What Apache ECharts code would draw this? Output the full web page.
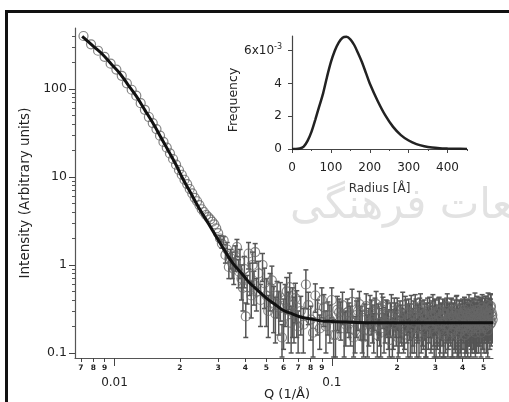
<!DOCTYPE html>
<html><head><meta charset="utf-8">
<script src="https://cdn.jsdelivr.net/npm/echarts@6/dist/echarts.min.js"></script>
<style>html,body{margin:0;padding:0;background:#fff}#c{width:509px;height:402px}</style>
</head><body><div id="c"></div>
<script>
// ---- fit curve (main plot) ----
const fitQ = [0.0071,0.0080,0.0088,0.0097,0.0105,0.0115,0.0126,0.0138,0.0150,0.0164,0.0179,0.0193,0.0206,0.0225,0.0246,0.0270,0.0294,0.0320,0.0350,0.0385,0.0419,0.0460,0.0500,0.0545,0.0594,0.0650,0.0712,0.0790,0.0880,0.100,0.120,0.145,0.200,0.300,0.400,0.552];
const fitI = [397,305,248,190,154,113,82.8,57.5,41.2,27.8,18.9,13.4,9.6,6.5,4.35,2.98,2.1,1.48,1.05,0.8,0.624,0.506,0.42,0.36,0.308,0.282,0.258,0.245,0.233,0.228,0.224,0.221,0.220,0.220,0.220,0.220];

// ---- measured data, low q (errors too small to see) ----
const lowQ = [0.0072,0.0078,0.0084,0.0090,0.0096,0.0102,0.0108,0.0114,0.0120,0.0126,0.0132,0.0138,0.0144,0.0150,0.0156,0.0162,0.0168,0.0174,0.0180,0.0186,0.0192,0.0198,0.0204,0.0210,0.0216,0.0222,0.0228,0.0234,0.0240,0.0246,0.0252,0.0258,0.0264,0.0270,0.0276,0.0282,0.0288,0.0294,0.0300];
const lowI = [400,322,272,232,194,166,141,116,98,84,69,58,48,41,35,29.5,25,21.5,18.5,16,13.8,12,10.6,9.3,8.3,7.3,6.5,5.8,5.3,4.8,4.3,4.0,3.7,3.5,3.3,3.1,2.9,2.6,2.3];

// ---- measured data, mid q ----
const midQ = [0.0306,0.0312,0.0318,0.0324,0.0330,0.0336,0.0342,0.0348,0.0354,0.0360,0.0366,0.0372,0.0378,0.0384,0.0390,0.0396,0.0402,0.0408,0.0414,0.0420,0.0426,0.0432,0.0438,0.0444,0.0450,0.0460,0.0470,0.0480,0.0490,0.0500,0.0510,0.0520,0.0530,0.0540,0.0550,0.0560,0.0570,0.0580,0.0590,0.0600,0.0610,0.0620,0.0630,0.0640,0.0650,0.0660,0.0670,0.0680,0.0690,0.0700];
const midI = [2.0,1.75,1.9,1.3,1.5,0.95,1.2,1.05,0.9,1.25,1.6,0.85,1.1,0.7,0.55,0.9,0.26,0.56,1.35,0.75,0.45,1.0,0.6,1.4,0.5,0.8,0.4,1.0,0.62,0.45,0.3,0.55,0.67,0.37,0.28,0.45,0.33,0.43,0.15,0.26,0.4,0.5,0.31,0.56,0.22,0.35,0.28,0.42,0.33,0.2];
const midErr = [0.15,0.2,0.2,0.25,0.3,0.25,0.3,0.35,0.3,0.4,0.35,0.3,0.4,0.3,0.25,0.35,0.11,0.2,0.45,0.3,0.2,0.4,0.25,0.35,0.2,0.3,0.2,0.35,0.3,0.25,0.15,0.25,0.3,0.2,0.15,0.2,0.17,0.2,0.06,0.15,0.2,0.22,0.18,0.25,0.12,0.2,0.15,0.2,0.18,0.1];

// ---- measured data, high q (two interleaved runs) ----
const highQ = [0.072,0.076,0.080,0.084,0.088,0.092,0.096,0.100,0.104,0.108,
0.112,0.116,0.120,0.124,0.128,0.132,0.136,0.140,0.144,0.148,
0.152,0.156,0.160,0.164,0.168,0.172,0.176,0.180,0.184,0.188,
0.192,0.196,0.200,0.204,0.208,0.212,0.216,0.220,0.224,0.228,
0.232,0.236,0.240,0.244,0.248,0.252,0.256,0.260,0.264,0.268,
0.272,0.276,0.280,0.284,0.288,0.292,0.296,0.300,0.304,0.308,
0.312,0.316,0.320,0.324,0.328,0.332,0.336,0.340,0.344,0.348,
0.352,0.356,0.360,0.364,0.368,0.372,0.376,0.380,0.384,0.388,
0.392,0.396,0.400,0.404,0.408,0.412,0.416,0.420,0.424,0.428,
0.432,0.436,0.440,0.444,0.448,0.452,0.456,0.460,0.464,0.468,
0.472,0.476,0.480,0.484,0.488,0.492,0.496,0.500,0.504,0.508,
0.512,0.516,0.520,0.524,0.528,0.532,0.536,0.540,0.544,0.548];
const highI = [0.30,0.60,0.24,0.45,0.19,0.33,0.27,0.40,0.16,0.29,
0.35,0.21,0.26,0.38,0.18,0.30,0.24,0.15,0.34,0.22,
0.28,0.19,0.36,0.25,0.17,0.31,0.23,0.27,0.14,0.33,
0.21,0.26,0.30,0.18,0.24,0.35,0.20,0.28,0.16,0.25,
0.32,0.22,0.19,0.29,0.24,0.15,0.34,0.27,0.21,0.25,
0.18,0.30,0.23,0.26,0.20,0.33,0.17,0.28,0.24,0.22,
0.31,0.19,0.25,0.29,0.16,0.27,0.23,0.34,0.20,0.26,
0.22,0.30,0.18,0.25,0.28,0.21,0.32,0.24,0.17,0.27,
0.25,0.20,0.29,0.23,0.31,0.19,0.26,0.28,0.22,0.33,
0.24,0.18,0.27,0.30,0.21,0.25,0.35,0.23,0.19,0.28,
0.26,0.31,0.22,0.29,0.24,0.33,0.20,0.27,0.30,0.25,
0.32,0.23,0.28,0.35,0.26,0.30,0.24,0.34,0.29,0.27];
const highErr = [0.14,0.28,0.10,0.16,0.08,0.13,0.11,0.15,0.07,0.12,
0.14,0.09,0.11,0.15,0.08,0.12,0.10,0.07,0.13,0.10,
0.12,0.09,0.14,0.11,0.08,0.12,0.10,0.12,0.07,0.13,
0.10,0.11,0.12,0.08,0.11,0.14,0.09,0.12,0.08,0.11,
0.13,0.10,0.09,0.12,0.11,0.07,0.13,0.12,0.10,0.11,
0.09,0.12,0.10,0.11,0.09,0.13,0.08,0.12,0.11,0.10,
0.12,0.09,0.11,0.12,0.08,0.11,0.10,0.13,0.09,0.11,
0.10,0.12,0.09,0.11,0.12,0.10,0.13,0.11,0.08,0.12,
0.11,0.09,0.12,0.10,0.12,0.09,0.11,0.12,0.10,0.13,
0.11,0.09,0.12,0.12,0.10,0.11,0.13,0.10,0.09,0.12,
0.11,0.12,0.10,0.12,0.11,0.13,0.09,0.11,0.12,0.11,
0.12,0.10,0.11,0.13,0.11,0.12,0.10,0.13,0.12,0.11];
const highQ2 = [0.074,0.078,0.082,0.086,0.090,0.094,0.098,0.102,0.106,0.110,
0.114,0.118,0.122,0.126,0.130,0.134,0.138,0.142,0.146,0.150,
0.154,0.158,0.162,0.166,0.170,0.174,0.178,0.182,0.186,0.190,
0.194,0.198,0.202,0.206,0.210,0.214,0.218,0.222,0.226,0.230,
0.234,0.238,0.242,0.246,0.250,0.254,0.258,0.262,0.266,0.270,
0.274,0.278,0.282,0.286,0.290,0.294,0.298,0.302,0.306,0.310,
0.314,0.318,0.322,0.326,0.330,0.334,0.338,0.342,0.346,0.350,
0.354,0.358,0.362,0.366,0.370,0.374,0.378,0.382,0.386,0.390,
0.394,0.398,0.402,0.406,0.410,0.414,0.418,0.422,0.426,0.430,
0.434,0.438,0.442,0.446,0.450,0.454,0.458,0.462,0.466,0.470,
0.474,0.478,0.482,0.486,0.490,0.494,0.498,0.502,0.506,0.510,
0.514,0.518,0.522,0.526,0.530,0.534,0.538,0.542,0.546,0.550];
const highI2 = [0.21,0.35,0.17,0.28,0.40,0.20,0.24,0.16,0.31,0.26,
0.19,0.29,0.23,0.15,0.27,0.36,0.20,0.25,0.18,0.32,
0.24,0.30,0.16,0.22,0.34,0.19,0.28,0.21,0.26,0.17,
0.30,0.23,0.15,0.27,0.22,0.19,0.31,0.24,0.29,0.18,
0.20,0.27,0.33,0.16,0.25,0.30,0.19,0.22,0.28,0.17,
0.26,0.21,0.31,0.19,0.27,0.23,0.29,0.16,0.21,0.30,
0.18,0.26,0.22,0.17,0.28,0.20,0.30,0.15,0.25,0.23,
0.29,0.17,0.26,0.21,0.19,0.31,0.16,0.22,0.28,0.20,
0.18,0.27,0.21,0.26,0.16,0.29,0.20,0.17,0.25,0.22,
0.28,0.21,0.19,0.24,0.29,0.20,0.17,0.26,0.31,0.22,
0.19,0.24,0.28,0.17,0.30,0.21,0.26,0.19,0.23,0.31,
0.20,0.27,0.18,0.24,0.29,0.21,0.33,0.22,0.26,0.24];
const highErr2 = [0.11,0.14,0.08,0.12,0.15,0.10,0.11,0.08,0.13,0.12,
0.10,0.12,0.11,0.07,0.12,0.14,0.10,0.11,0.09,0.13,
0.11,0.12,0.08,0.10,0.13,0.09,0.12,0.10,0.11,0.08,
0.12,0.11,0.07,0.12,0.10,0.09,0.13,0.11,0.12,0.09,
0.10,0.12,0.13,0.08,0.11,0.12,0.09,0.10,0.12,0.08,
0.11,0.10,0.12,0.09,0.12,0.11,0.12,0.08,0.10,0.12,
0.09,0.11,0.10,0.08,0.12,0.10,0.12,0.07,0.11,0.10,
0.12,0.08,0.11,0.10,0.09,0.13,0.08,0.10,0.12,0.10,
0.09,0.12,0.10,0.11,0.08,0.12,0.10,0.08,0.11,0.10,
0.12,0.10,0.09,0.11,0.12,0.10,0.08,0.11,0.13,0.10,
0.09,0.11,0.12,0.08,0.12,0.10,0.11,0.09,0.10,0.13,
0.10,0.12,0.09,0.11,0.12,0.10,0.13,0.10,0.11,0.11];

// ---- inset: size distribution ----
const radius = [0,10,20,30,40,50,60,70,80,90,100,110,120,130,140,150,160,170,180,190,200,220,240,260,280,300,320,340,360,380,400,420,450];
const freq = [0,0,0.03,0.15,0.5,1.05,1.8,2.6,3.4,4.4,5.3,6.0,6.5,6.8,6.85,6.7,6.35,5.85,5.3,4.65,4.0,2.95,2.05,1.35,0.85,0.52,0.3,0.17,0.09,0.05,0.03,0.015,0.005];

// ---- tick labels ----
const xMajorTicks = [0.01, 0.1];
const xMajorLabels = ['0.01', '0.1'];
const xMinorTicks = [0.007,0.008,0.009,0.02,0.03,0.04,0.05,0.06,0.07,0.08,0.09,0.2,0.3,0.4,0.5];
const xMinorLabels = ['7','8','9','2','3','4','5','6','7','8','9','2','3','4','5'];
const yMajorTicks = [0.1, 1, 10, 100];
const yMajorLabels = ['0.1', '1', '10', '100'];
const yMinorTicks = [0.2,0.3,0.4,0.5,0.6,0.7,0.8,0.9,2,3,4,5,6,7,8,9,20,30,40,50,60,70,80,90,200,300,400];
const insetXTicks = [0, 100, 200, 300, 400];
const insetXMinor = [50, 150, 250, 350, 450];
const insetYTicks = [0, 2, 4, 6];

const X_MIN = 0.00658, X_MAX = 0.552, Y_MIN = 0.0877, Y_MAX = 493;
const FONT = 'DejaVu Sans';

function pick(ticks, labels) {
  return function (v) {
    let best = 0, bd = Infinity;
    for (let i = 0; i < ticks.length; i++) {
      const d = Math.abs(Math.log(v) - Math.log(ticks[i]));
      if (d < bd) { bd = d; best = i; }
    }
    return labels[best];
  };
}

const scatterData = [], errData = [];
function addSet(qs, is, es) {
  qs.forEach((q, i) => {
    scatterData.push([q, is[i]]);
    if (es) errData.push([q, Math.max(is[i] - es[i], 0.09), is[i] + es[i]]);
  });
}
addSet(lowQ, lowI, null);
addSet(midQ, midI, midErr);
addSet(highQ, highI, highErr);
addSet(highQ2, highI2, highErr2);

const chart = echarts.init(document.getElementById('c'));
const lab = { fontFamily: FONT, color: '#222' };
chart.setOption({
  animation: false,
  backgroundColor: '#fff',
  grid: [
    { left: 75, right: 16, top: 28, bottom: 44, outerBoundsMode: 'none', containLabel: false },
    { left: 292, right: 42, top: 36, bottom: 253, outerBoundsMode: 'none', containLabel: false }
  ],
  xAxis: [
    { type: 'log', gridIndex: 0, position: 'bottom', min: X_MIN, max: X_MAX,
      axisLine: { show: true, lineStyle: { color: '#555', width: 1.2 } },
      axisTick: { show: true, customValues: xMajorTicks, length: 8, lineStyle: { color: '#444' } },
      axisLabel: { customValues: xMajorTicks, formatter: pick(xMajorTicks, xMajorLabels), margin: 19, fontSize: 12, ...lab },
      splitLine: { show: false },
      name: 'Q (1/Å)', nameLocation: 'middle', nameGap: 30, nameMoveOverlap: false,
      nameTextStyle: { fontSize: 13, fontFamily: FONT, color: '#222', padding: [0, 0, 0, 6] } },
    { type: 'log', gridIndex: 0, position: 'bottom', min: X_MIN, max: X_MAX,
      axisLine: { show: false },
      axisTick: { show: true, customValues: xMinorTicks, length: 4, lineStyle: { color: '#444' } },
      axisLabel: { customValues: xMinorTicks, formatter: pick(xMinorTicks, xMinorLabels), margin: 6, fontSize: 7.5, fontWeight: 'bold', ...lab },
      splitLine: { show: false } },
    { type: 'value', gridIndex: 1, position: 'bottom', min: 0, max: 450,
      axisLine: { show: true, lineStyle: { color: '#444', width: 1.2 } },
      axisTick: { show: true, customValues: insetXTicks, length: 4, lineStyle: { color: '#444' } },
      axisLabel: { customValues: insetXTicks, margin: 13, fontSize: 12, ...lab },
      splitLine: { show: false },
      name: 'Radius [Å]', nameLocation: 'middle', nameGap: 34, nameTextStyle: { fontSize: 12, fontFamily: FONT, color: '#333' } },
    { type: 'value', gridIndex: 1, position: 'bottom', min: 0, max: 450,
      axisLine: { show: false },
      axisTick: { show: true, customValues: insetXMinor, length: 2, lineStyle: { color: '#444' } },
      axisLabel: { show: false }, splitLine: { show: false } }
  ],
  yAxis: [
    { type: 'log', gridIndex: 0, position: 'left', min: Y_MIN, max: Y_MAX,
      axisLine: { show: true, lineStyle: { color: '#555', width: 1.2 } },
      axisTick: { show: true, customValues: yMajorTicks, length: 6, lineStyle: { color: '#444' } },
      axisLabel: { customValues: yMajorTicks, formatter: pick(yMajorTicks, yMajorLabels), margin: 8, fontSize: 12.5, ...lab },
      splitLine: { show: false },
      name: 'Intensity (Arbitrary units)', nameLocation: 'middle', nameGap: 37, nameRotate: 90,
      nameTextStyle: { fontSize: 13.5, fontFamily: FONT, color: '#222' } },
    { type: 'log', gridIndex: 0, position: 'left', min: Y_MIN, max: Y_MAX,
      axisLine: { show: false },
      axisTick: { show: true, customValues: yMinorTicks, length: 3, lineStyle: { color: '#555' } },
      axisLabel: { show: false }, splitLine: { show: false } },
    { type: 'value', gridIndex: 1, position: 'left', min: 0, max: 6.9,
      axisLine: { show: true, lineStyle: { color: '#444', width: 1.2 } },
      axisTick: { show: true, customValues: insetYTicks, length: 4, lineStyle: { color: '#444' } },
      axisLabel: { customValues: insetYTicks, margin: 10, fontSize: 12, ...lab,
        formatter: v => v === 6 ? '{a|6x10}{s|-3}' : String(v),
        rich: { a: { fontSize: 12, fontFamily: FONT, color: '#222' }, s: { fontSize: 8, fontFamily: FONT, color: '#222', padding: [0, 0, 8, 0] } } },
      splitLine: { show: false },
      name: 'Frequency', nameLocation: 'middle', nameGap: 38, nameRotate: 90,
      nameTextStyle: { fontSize: 12.5, fontFamily: FONT, color: '#222', padding: [0, 15, 0, 0] } }
  ],
  graphic: [
    { type: 'text', left: 290, top: 186, z: -10, silent: true,
      style: { text: 'مطالعات فرهنگی', fontSize: 42, fontFamily: 'DejaVu Sans', fill: '#e2e2e2' } },
    { type: 'text', left: 398, top: -25, silent: true,
      style: { text: 'g', fontSize: 24, fontFamily: 'DejaVu Sans', fill: '#333' } },
    { type: 'rect', shape: { x: 5, y: 10, width: 3, height: 392 }, style: { fill: '#111' }, z: 100 },
    { type: 'rect', shape: { x: 5, y: 10, width: 504, height: 3 }, style: { fill: '#111' }, z: 100 }
  ],
  series: [
    { type: 'custom', xAxisIndex: 0, yAxisIndex: 0, data: errData, clip: true, z: 2,
      encode: { x: 0, y: [1, 2] },
      renderItem: function (params, api) {
        const q = api.value(0), lo = api.value(1), hi = api.value(2);
        const t = api.coord([q, hi]), b = api.coord([q, lo]);
        const w = 2.5, st = { stroke: '#555', lineWidth: 1.5 };
        return { type: 'group', children: [
          { type: 'line', shape: { x1: t[0], y1: t[1], x2: b[0], y2: b[1] }, style: st },
          { type: 'line', shape: { x1: t[0] - w, y1: t[1], x2: t[0] + w, y2: t[1] }, style: st },
          { type: 'line', shape: { x1: b[0] - w, y1: b[1], x2: b[0] + w, y2: b[1] }, style: st }
        ] };
      } },
    { type: 'scatter', xAxisIndex: 0, yAxisIndex: 0, data: scatterData, symbol: 'circle', symbolSize: 9, z: 3,
      itemStyle: { color: 'rgba(0,0,0,0)', borderColor: '#666', borderWidth: 1.2 } },
    { type: 'line', xAxisIndex: 0, yAxisIndex: 0, data: fitQ.map((q, i) => [q, fitI[i]]), showSymbol: false, smooth: 0.35, z: 5,
      lineStyle: { color: '#111', width: 3 } },
    { type: 'line', xAxisIndex: 2, yAxisIndex: 2, data: radius.map((r, i) => [r, freq[i]]), showSymbol: false, smooth: 0.3, z: 5,
      lineStyle: { color: '#222', width: 2.5 } }
  ]
});
</script></body></html>
